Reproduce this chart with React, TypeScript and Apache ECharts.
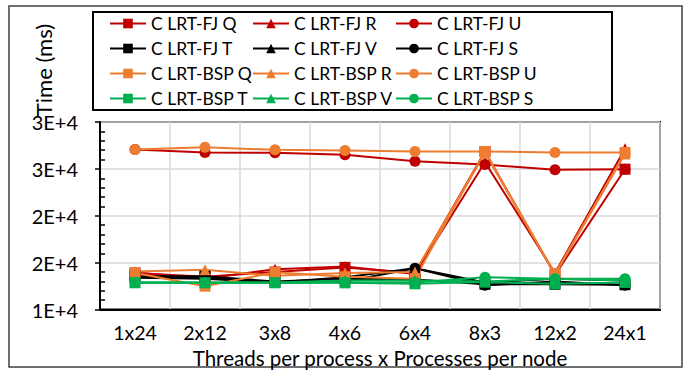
import React, { useEffect, useRef } from 'react';
import * as echarts from 'echarts';

const categories = ['1x24', '2x12', '3x8', '4x6', '6x4', '8x3', '12x2', '24x1'];
const yTickLabels = ['1E+4', '2E+4', '2E+4', '3E+4', '3E+4'];

const fjQ = [13900, 13500, 14000, 14500, 13900, 26850, 13700, 24970];
const fjR = [13950, 13300, 14300, 14600, 13800, 25700, 13900, 27150];
const fjU = [27070, 26750, 26720, 26510, 25810, 25460, 24900, 24970];
const fjT = [13560, 13560, 13000, 13300, 13200, 12700, 12700, 12650];
const fjV = [13500, 13400, 12900, 13450, 14400, 12900, 13300, 13100];
const fjS = [13400, 13300, 12900, 13000, 14400, 12590, 13000, 12590];
const bspQ = [13900, 12500, 13980, 13500, 13300, 26860, 13800, 26750];
const bspR = [14050, 14260, 13600, 13900, 14000, 26700, 13750, 26600];
const bspU = [27070, 27300, 27030, 26960, 26860, 26860, 26750, 26750];
const bspT = [12860, 12860, 12860, 12850, 12750, 12930, 12750, 12900];
const bspV = [12900, 12900, 12900, 13100, 13100, 13000, 13280, 13100];
const bspS = [12900, 12860, 12860, 12900, 12900, 13450, 13300, 13280];

const RED = '#C00000';
const BLACK = '#000000';
const ORANGE = '#ED7D31';
const GREEN = '#00B050';
const FONT = 'Lato';

const seriesDefs = [
  { name: 'C LRT-FJ Q', data: fjQ, color: RED, symbol: 'rect' },
  { name: 'C LRT-FJ R', data: fjR, color: RED, symbol: 'triangle' },
  { name: 'C LRT-FJ U', data: fjU, color: RED, symbol: 'circle' },
  { name: 'C LRT-FJ T', data: fjT, color: BLACK, symbol: 'rect' },
  { name: 'C LRT-FJ V', data: fjV, color: BLACK, symbol: 'triangle' },
  { name: 'C LRT-FJ S', data: fjS, color: BLACK, symbol: 'circle' },
  { name: 'C LRT-BSP Q', data: bspQ, color: ORANGE, symbol: 'rect' },
  { name: 'C LRT-BSP R', data: bspR, color: ORANGE, symbol: 'triangle' },
  { name: 'C LRT-BSP U', data: bspU, color: ORANGE, symbol: 'circle' },
  { name: 'C LRT-BSP T', data: bspT, color: GREEN, symbol: 'rect' },
  { name: 'C LRT-BSP V', data: bspV, color: GREEN, symbol: 'triangle' },
  { name: 'C LRT-BSP S', data: bspS, color: GREEN, symbol: 'circle' },
];

const legendCols = [
  ['C LRT-FJ Q', 'C LRT-FJ T', 'C LRT-BSP Q', 'C LRT-BSP T'],
  ['C LRT-FJ R', 'C LRT-FJ V', 'C LRT-BSP R', 'C LRT-BSP V'],
  ['C LRT-FJ U', 'C LRT-FJ S', 'C LRT-BSP U', 'C LRT-BSP S'],
];
const legendLefts = [109, 252, 395];

export default function App() {
  const ref = useRef<HTMLDivElement>(null);
  useEffect(() => {
    if (!ref.current) return;
    const chart = echarts.init(ref.current, undefined, { renderer: 'svg' });
    chart.setOption({
      animation: false,
      textStyle: { fontFamily: FONT },
      grid: {
        left: 100, right: 31, top: 122, bottom: 60,
        show: true, borderColor: '#000', borderWidth: 2, backgroundColor: 'transparent',
      },
      legend: legendCols.map((col, i) => ({
        data: col,
        orient: 'vertical',
        left: legendLefts[i],
        top: 14,
        itemGap: 6,
        itemWidth: 36,
        itemHeight: 12,
        padding: 0,
        textStyle: { fontSize: 17.5, color: '#000', fontFamily: FONT, lineHeight: 19 },
        selectedMode: false,
      })),
      xAxis: {
        type: 'category',
        data: categories,
        boundaryGap: true,
        axisLine: { lineStyle: { color: '#000', width: 2 } },
        axisTick: { alignWithLabel: true, inside: true, length: 5, lineStyle: { color: '#000', width: 1.5 } },
        axisLabel: { fontSize: 19.5, lineHeight: 19, color: '#000', margin: 13, fontFamily: FONT },
        splitLine: { show: true, lineStyle: { color: '#D9D9D9', width: 1.5 } },
        name: 'Threads per process x Processes per node',
        nameLocation: 'middle',
        nameGap: 35,
        nameTextStyle: { fontSize: 20.5, lineHeight: 20, color: '#000', fontFamily: FONT },
      },
      yAxis: [
        {
          type: 'value',
          min: 10000, max: 30000, interval: 5000,
          axisLine: { show: true, lineStyle: { color: '#000', width: 2 } },
          axisTick: { show: true, inside: false, length: 5, lineStyle: { color: '#000', width: 1.5 } },
          axisLabel: {
            fontSize: 20, color: '#000', margin: 22, fontFamily: FONT,
            formatter: (v: number) => yTickLabels[Math.round((v - 10000) / 5000)] ?? '',
          },
          splitLine: { show: true, lineStyle: { color: '#D9D9D9', width: 1.5 } },
        },
        {
          type: 'value',
          position: 'left',
          min: 10000, max: 30000, interval: 5000,
          axisLine: { show: false },
          axisTick: { show: false, inside: true },
          minorTick: { show: true, splitNumber: 5, length: 5, lineStyle: { color: '#000', width: 1.5 } },
          axisLabel: { show: false },
          splitLine: { show: false },
        },
      ],
      graphic: [
        {
          type: 'rect',
          shape: { x: 9, y: 6, width: 673, height: 361 },
          style: { fill: 'none', stroke: '#404040', lineWidth: 1.5 },
          silent: true,
        },
        {
          type: 'rect',
          shape: { x: 93, y: 12, width: 519, height: 98 },
          style: { fill: 'none', stroke: '#000', lineWidth: 2 },
          silent: true,
        },
        {
          type: 'text',
          x: 43, y: 70,
          rotation: Math.PI / 2,
          style: {
            text: 'Time (ms)', fontSize: 22, fill: '#000', fontFamily: FONT,
            align: 'center', verticalAlign: 'middle',
          },
          silent: true,
        },
      ],
      series: seriesDefs.map((s) => ({
        name: s.name,
        type: 'line',
        data: s.data,
        symbol: s.symbol,
        symbolSize: 11,
        showSymbol: true,
        color: s.color,
        lineStyle: { color: s.color, width: 2 },
        itemStyle: { color: s.color },
      })),
    });
    return () => chart.dispose();
  }, []);
  return (
    <div
      ref={ref}
      style={{ position: 'fixed', left: 0, top: 0, width: 691, height: 373, background: '#fff' }}
    />
  );
}
